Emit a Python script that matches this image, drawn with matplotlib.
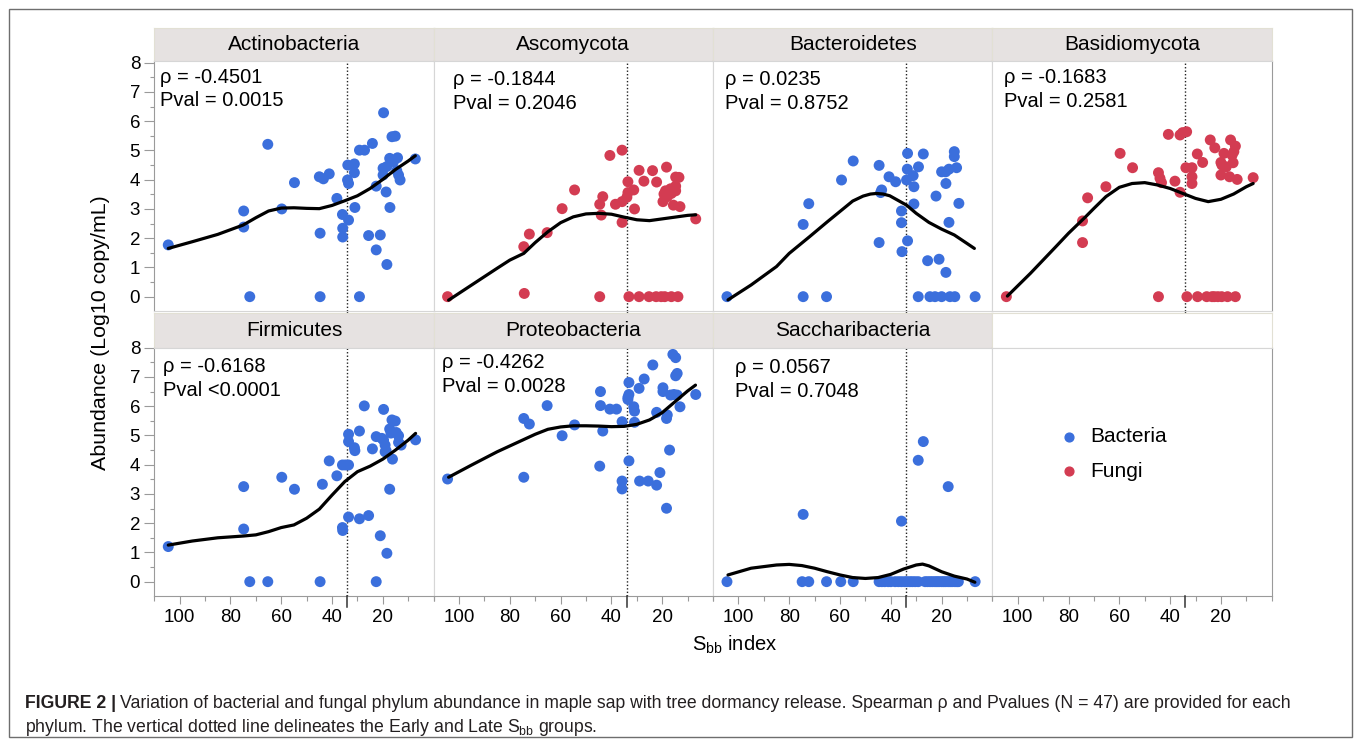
import matplotlib
matplotlib.use("Agg")
import matplotlib.pyplot as plt
from matplotlib.patches import Rectangle
from matplotlib.ticker import MultipleLocator

plt.rcParams['font.family'] = ['Liberation Sans', 'DejaVu Sans']
plt.rcParams['mathtext.fontset'] = 'custom'
plt.rcParams['mathtext.rm'] = 'Liberation Sans'

BLUE = '#3b6fdc'
RED = '#d33c52'
SPLIT = 34  # Sbb index separating Early and Late groups

# ---- data: Sbb index (x) and Log10 copy/mL (y) for each phylum ----
actino_x = [104.5, 74.8, 74.8, 72.4, 65.3, 59.8, 54.8, 44.7, 44.7, 45.0, 43.4, 41.1, 38.1,
            35.9, 35.8, 35.8, 33.8, 33.9, 33.5, 33.5, 31.2, 31.2, 31.0, 29.2, 29.2, 27.2,
            25.6, 24.1, 22.6, 22.6, 21.0, 19.7, 19.9, 19.9, 18.7, 18.4, 17.3, 17.2, 16.4,
            15.1, 15.8, 14.5, 14.2, 13.8, 13.2, 7.2, 18.4]
actino_y = [1.77, 2.93, 2.38, 0.0, 5.21, 3.00, 3.90, 2.17, 0.0, 4.10, 4.03, 4.20, 3.36,
            2.81, 2.34, 2.04, 4.50, 3.99, 3.87, 2.62, 4.54, 4.24, 3.05, 5.01, 0.0, 5.01,
            2.09, 5.24, 3.78, 1.60, 2.11, 6.29, 4.39, 4.16, 3.58, 1.10, 4.73, 3.05, 5.47,
            5.49, 4.62, 4.31, 4.75, 4.16, 3.99, 4.71, 4.45]
actino_fit_x = [104.5, 95, 85, 75, 70, 65, 60, 55, 50, 45, 40, 35, 30, 25, 20, 15, 10, 7.2]
actino_fit_y = [1.65, 1.88, 2.13, 2.45, 2.70, 2.93, 3.03, 3.04, 3.02, 3.01, 3.12, 3.28,
                3.45, 3.70, 4.01, 4.35, 4.64, 4.82]

asco_x = [104.5, 74.3, 74.5, 72.3, 65.3, 59.4, 54.5, 44.6, 44.6, 44.0, 43.4, 40.6, 38.4,
          35.8, 35.8, 35.8, 33.5, 33.1, 33.5, 31.2, 30.9, 29.1, 29.1, 27.2, 25.2, 23.8,
          22.2, 22.4, 20.4, 19.3, 19.7, 18.3, 19.0, 18.7, 16.7, 16.4, 15.6, 14.7, 13.8,
          13.4, 14.7, 14.7, 13.0, 6.8, 16.4, 18.0, 33.9]
asco_y = [0.0, 0.11, 1.71, 2.14, 2.19, 3.01, 3.65, 0.0, 3.16, 2.79, 3.42, 4.83, 3.16,
          5.01, 3.25, 2.54, 3.93, 0.0, 3.56, 3.65, 3.00, 4.32, 0.0, 3.95, 0.0, 4.31,
          3.92, 0.0, 0.0, 3.51, 3.25, 4.43, 0.0, 3.62, 3.69, 0.0, 3.13, 4.09, 0.0,
          4.08, 3.78, 3.62, 3.08, 2.66, 3.53, 3.42, 3.40]
asco_fit_x = [104.1, 95, 85, 80, 74.5, 70, 65, 60, 55, 50, 45, 40, 35, 30, 25, 20, 15, 10, 6.8]
asco_fit_y = [-0.12, 0.40, 0.97, 1.25, 1.48, 1.85, 2.22, 2.53, 2.73, 2.83, 2.85, 2.82,
              2.72, 2.63, 2.60, 2.66, 2.72, 2.78, 2.80]

bactero_x = [104.5, 74.5, 74.5, 72.3, 65.3, 59.4, 54.8, 44.6, 44.6, 43.6, 44.0, 40.7, 38.1,
             35.8, 35.8, 35.6, 33.4, 33.5, 33.8, 33.4, 31.2, 30.9, 30.9, 29.2, 29.1, 27.2,
             25.5, 24.6, 22.6, 22.2, 21.0, 20.0, 20.0, 18.3, 18.3, 17.1, 17.1, 18.4, 15.0,
             15.0, 14.1, 14.8, 13.2, 16.7, 6.8]
bactero_y = [0.0, 0.0, 2.47, 3.18, 0.0, 3.99, 4.64, 4.49, 1.85, 3.65, 3.56, 4.10, 3.93,
             2.93, 2.53, 1.54, 4.90, 4.36, 3.99, 1.91, 4.14, 3.76, 3.17, 0.0, 4.44, 4.88,
             1.23, 0.0, 0.0, 3.44, 1.28, 4.27, 0.0, 3.87, 0.83, 2.54, 4.36, 4.27, 4.96,
             4.79, 4.41, 0.0, 3.19, 0.0, 0.0]
bactero_fit_x = [104.1, 95, 85, 80, 72, 65, 58.8, 55, 50.9, 48, 45.6, 43, 40.4, 33.8, 30,
                 25, 20, 15, 10, 7.1]
bactero_fit_y = [-0.11, 0.40, 1.03, 1.48, 2.05, 2.56, 3.00, 3.27, 3.44, 3.51, 3.53, 3.51,
                 3.45, 3.13, 2.85, 2.54, 2.31, 2.11, 1.82, 1.65]

basidio_x = [104.5, 74.5, 74.5, 72.5, 65.3, 59.7, 54.8, 44.6, 44.6, 44.0, 43.4, 40.7, 38.1,
             36.1, 35.1, 33.5, 36.1, 33.8, 33.4, 31.4, 31.4, 31.4, 29.3, 29.2, 27.2, 25.6,
             24.2, 22.4, 22.6, 20.0, 20.0, 19.7, 19.6, 18.8, 17.4, 16.6, 16.2, 15.6, 15.2,
             14.3, 14.3, 13.6, 7.3, 17.9, 14.9, 21.2, 23.5]
basidio_y = [0.0, 2.59, 1.85, 3.38, 3.76, 4.90, 4.41, 0.0, 4.24, 4.05, 3.90, 5.55, 3.95,
             5.53, 5.61, 5.64, 3.57, 4.41, 0.0, 4.41, 4.10, 3.87, 4.88, 0.0, 4.59, 0.0,
             5.36, 5.09, 0.0, 4.59, 4.16, 0.0, 4.50, 4.90, 0.0, 4.10, 5.36, 4.84, 4.58,
             5.15, 0.0, 4.01, 4.07, 4.44, 4.96, 0.0, 0.0]
basidio_fit_x = [104.1, 95, 85, 80, 73.2, 70, 65.3, 60, 55, 50, 45, 40, 35, 30, 25, 20, 15,
                 10, 7.3]
basidio_fit_y = [0.02, 0.80, 1.71, 2.17, 2.74, 3.02, 3.42, 3.74, 3.87, 3.90, 3.82, 3.70,
                 3.53, 3.36, 3.25, 3.33, 3.51, 3.76, 3.87]

firmi_x = [104.5, 74.8, 74.8, 72.4, 65.3, 59.8, 54.8, 44.7, 43.8, 41.1, 38.1, 35.9, 35.8,
           35.9, 33.5, 33.5, 33.5, 33.5, 31.2, 31.0, 29.2, 29.2, 27.3, 25.6, 24.1, 22.6,
           22.6, 21.0, 19.7, 20.4, 19.7, 19.1, 18.7, 18.4, 17.3, 17.3, 16.4, 15.1, 16.2,
           14.7, 13.8, 13.8, 12.8, 7.1, 19.1, 16.8, 34.7]
firmi_y = [1.20, 3.25, 1.80, 0.0, 0.0, 3.57, 3.16, 0.0, 3.33, 4.13, 3.62, 1.85, 1.75,
           3.99, 3.99, 5.04, 4.79, 2.21, 4.58, 4.48, 5.15, 2.15, 6.01, 2.26, 4.54, 4.96,
           0.0, 1.57, 5.89, 4.90, 4.84, 4.67, 4.48, 0.97, 5.22, 3.16, 5.53, 5.49, 4.19,
           5.10, 4.99, 4.76, 4.67, 4.85, 4.44, 5.08, 3.99]
firmi_fit_x = [104.5, 95, 85, 75, 70, 65, 60, 55, 50, 45, 40, 35, 30, 25, 20, 15, 10, 7.1]
firmi_fit_y = [1.25, 1.39, 1.50, 1.56, 1.60, 1.71, 1.85, 1.94, 2.17, 2.48, 2.96, 3.42,
               3.76, 3.95, 4.19, 4.50, 4.84, 5.07]

proteo_x = [104.5, 74.5, 72.3, 74.5, 65.3, 59.4, 54.5, 44.6, 44.3, 44.3, 43.4, 40.6, 38.0,
            35.8, 35.8, 35.8, 33.1, 33.1, 33.5, 33.1, 31.2, 30.9, 30.9, 29.1, 28.9, 27.1,
            25.5, 23.7, 22.2, 22.2, 20.9, 19.7, 19.7, 18.3, 18.3, 18.0, 17.1, 16.7, 15.8,
            14.7, 14.7, 14.1, 14.1, 13.0, 6.8, 15.4, 33.5]
proteo_y = [3.51, 5.58, 5.39, 3.57, 6.02, 4.99, 5.36, 3.95, 6.50, 6.02, 5.15, 5.90, 5.90,
            5.47, 3.44, 3.17, 6.81, 6.40, 6.23, 4.13, 5.98, 5.83, 5.45, 6.61, 3.44, 6.93,
            3.44, 7.41, 3.30, 5.79, 3.73, 6.63, 6.50, 2.51, 5.58, 5.70, 4.50, 6.38, 7.77,
            7.66, 7.04, 7.12, 6.38, 5.98, 6.40, 6.40, 6.30]
proteo_fit_x = [104.1, 95, 85, 75, 70, 65, 60, 55, 50, 45, 40, 35, 30, 25, 20, 15, 10, 6.9]
proteo_fit_y = [3.57, 3.99, 4.44, 4.84, 5.04, 5.21, 5.29, 5.33, 5.33, 5.32, 5.30, 5.31,
                5.38, 5.53, 5.78, 6.15, 6.52, 6.72]

sacch_x = [104.5, 74.5, 74.9, 72.3, 65.3, 59.7, 54.8, 44.6, 43.5, 42.4, 41.0, 40.0, 38.3,
           37.0, 35.8, 35.8, 34.5, 33.6, 32.5, 31.5, 30.4, 29.2, 29.2, 27.2, 26.5, 25.5,
           24.5, 23.6, 22.6, 21.8, 21.0, 20.0, 19.2, 18.4, 17.4, 17.4, 16.6, 15.8, 14.8,
           14.0, 13.4, 6.8]
sacch_y = [0.0, 2.30, 0.0, 0.0, 0.0, 0.0, 0.0, 0.0, 0.0, 0.0, 0.0, 0.0, 0.0,
           0.0, 2.07, 0.0, 0.0, 0.0, 0.0, 0.0, 0.0, 0.0, 4.15, 4.79, 0.0, 0.0,
           0.0, 0.0, 0.0, 0.0, 0.0, 0.0, 0.0, 0.0, 3.25, 0.0, 0.0, 0.0, 0.0,
           0.0, 0.0, 0.0]
sacch_fit_x = [104.1, 95, 85, 80, 75, 70, 65, 60, 55, 50, 45, 40, 35, 30, 27.5, 25, 20, 15,
               10, 6.9]
sacch_fit_y = [0.23, 0.46, 0.57, 0.59, 0.55, 0.46, 0.34, 0.23, 0.14, 0.11, 0.14, 0.25,
               0.43, 0.57, 0.60, 0.54, 0.34, 0.19, 0.09, -0.02]

panel_names = ['Actinobacteria', 'Ascomycota', 'Bacteroidetes', 'Basidiomycota',
               'Firmicutes', 'Proteobacteria', 'Saccharibacteria']
rho_labels = ['ρ = -0.4501', 'ρ = -0.1844', 'ρ = 0.0235', 'ρ = -0.1683',
              'ρ = -0.6168', 'ρ = -0.4262', 'ρ = 0.0567']
pval_labels = ['Pval = 0.0015', 'Pval = 0.2046', 'Pval = 0.8752', 'Pval = 0.2581',
               'Pval <0.0001', 'Pval = 0.0028', 'Pval = 0.7048']
panel_data = [
    (actino_x, actino_y, actino_fit_x, actino_fit_y, BLUE),
    (asco_x, asco_y, asco_fit_x, asco_fit_y, RED),
    (bactero_x, bactero_y, bactero_fit_x, bactero_fit_y, BLUE),
    (basidio_x, basidio_y, basidio_fit_x, basidio_fit_y, RED),
    (firmi_x, firmi_y, firmi_fit_x, firmi_fit_y, BLUE),
    (proteo_x, proteo_y, proteo_fit_x, proteo_fit_y, BLUE),
    (sacch_x, sacch_y, sacch_fit_x, sacch_fit_y, BLUE),
]
# where the stats text sits in each panel (data coords: x, rho line y, pval line y)
text_pos = [(107.8, 7.51, 6.72), (102.3, 7.41, 6.62), (105.4, 7.44, 6.62),
            (105.4, 7.48, 6.66), (106.7, 7.35, 6.55), (106.7, 7.48, 6.66),
            (101.4, 7.32, 6.49)]

# ---- layout in pixels ----
W, H = 1355, 746
fig = plt.figure(figsize=(W / 100, H / 100), dpi=100)

def rect(l, t, r, b):
    return [l / W, 1 - b / H, (r - l) / W, (b - t) / H]

col_edges = [154.3, 433.6, 713.0, 992.4, 1271.7]
rows = [(28.3, 60.7, 310.7, 8.07), (313.3, 347.7, 595.7, 8.0)]  # strip top, axes top, axes bottom, ymax
YMIN = -0.48
GRID = '#d6d6d6'
AXIS = '#9a9a9a'

# outer frame
fig.add_artist(Rectangle((9 / W, 1 - 737 / H), 1343 / W, 728 / H, transform=fig.transFigure,
                         fill=False, edgecolor='#6e6e6e', lw=1.0))

for idx in range(8):
    r, c = divmod(idx, 4)
    st, at, ab, ymax = rows[r]
    l, rr = col_edges[c], col_edges[c + 1]
    empty = idx == 7

    # strip header
    sax = fig.add_axes(rect(l, st, rr, at))
    sax.set_xticks([])
    sax.set_yticks([])
    sax.set_facecolor('white' if empty else '#e6e2e1')
    for sp in sax.spines.values():
        sp.set_color('#e2e0d4')
        sp.set_linewidth(0.8)
    if not empty:
        sax.text(0.5, 0.5, panel_names[idx], ha='center', va='center', fontsize=15,
                 transform=sax.transAxes)

    ax = fig.add_axes(rect(l, at, rr, ab))
    ax.set_xlim(110, 0)
    ax.set_ylim(YMIN, ymax)
    for sp in ax.spines.values():
        sp.set_color(GRID)
        sp.set_linewidth(0.8)
    if c == 0:
        ax.spines['left'].set_color(AXIS)
    if c == 3:
        ax.spines['right'].set_color(AXIS)
    if r == 1:
        ax.spines['bottom'].set_color(AXIS)

    ax.yaxis.set_major_locator(MultipleLocator(1))
    ax.yaxis.set_minor_locator(MultipleLocator(0.5))
    ax.xaxis.set_major_locator(MultipleLocator(20))
    ax.xaxis.set_minor_locator(MultipleLocator(10))
    ax.tick_params(axis='y', which='major', length=7.2, width=0.8, color=AXIS, pad=3,
                   labelsize=13.5, left=(c == 0), labelleft=(c == 0))
    ax.tick_params(axis='y', which='minor', length=3, width=0.8, color=AXIS, left=(c == 0))
    ax.tick_params(axis='x', which='major', length=5.8, width=0.8, color=AXIS, pad=4,
                   labelsize=13.5, bottom=(r == 1), labelbottom=(r == 1))
    ax.tick_params(axis='x', which='minor', length=3.6, width=0.8, color=AXIS, bottom=(r == 1))
    if r == 1:
        ax.set_xticks([100, 80, 60, 40, 20])
        ax.set_xticklabels(['100', '80', '60', '40', '20'])
        # short dark marker below the axis at the group split
        ax.plot([SPLIT, SPLIT], [YMIN, YMIN - 11 / 29.25], color='#333333', lw=1.1,
                clip_on=False, zorder=5)

    if empty:
        ax.scatter([], [], s=40, color=BLUE, label='Bacteria')
        ax.scatter([], [], s=40, color=RED, label='Fungi')
        ax.legend(loc='center', bbox_to_anchor=(0.434, 0.571), frameon=False, fontsize=15,
                  handletextpad=0.6, labelspacing=0.75, handlelength=0.8)
        continue

    xs, ys, fx, fy, col = panel_data[idx]
    ax.axvline(SPLIT, color='#222222', lw=1.0, ls=(0, (1, 1.5)), zorder=1)
    if r == 0:
        ax.plot([SPLIT, SPLIT], [YMIN, YMIN - 3 / 29.25], color='#222222', lw=1.0,
                ls=(0, (1, 1.5)), clip_on=False)
    ax.scatter(xs, ys, s=62, color=col, edgecolors='none', zorder=3)
    ax.plot(fx, fy, color='black', lw=2.3, zorder=4, solid_capstyle='round',
            solid_joinstyle='round')

    tx, ty1, ty2 = text_pos[idx]
    ax.text(tx, ty1, rho_labels[idx], fontsize=14.5, va='center', ha='left')
    ax.text(tx, ty2, pval_labels[idx], fontsize=14.5, va='center', ha='left')

# axis titles
fig.text(101 / W, 1 - 333 / H, 'Abundance (Log10 copy/mL)', rotation=90, ha='center',
         va='center', fontsize=15.4)
fig.text(735 / W, 1 - 645 / H, r'S$_{\mathregular{bb}}$ index', ha='center', va='center',
         fontsize=14.5)

# caption
cap_color = '#231f20'
renderer = fig.canvas.get_renderer()
bold = fig.text(25 / W, 1 - 703 / H, 'FIGURE 2 |', fontsize=12.7, fontweight='bold',
                color=cap_color, va='center', ha='left')
bw = bold.get_window_extent(renderer).width
fig.text((25 + bw + 4) / W, 1 - 703 / H,
         'Variation of bacterial and fungal phylum abundance in maple sap with tree dormancy '
         'release. Spearman ρ and Pvalues (N = 47) are provided for each',
         fontsize=12.7, color=cap_color, va='center', ha='left')
fig.text(25 / W, 1 - 727 / H,
         r'phylum. The vertical dotted line delineates the Early and Late S$_{\mathregular{bb}}$ groups.',
         fontsize=12.7, color=cap_color, va='center', ha='left')

fig.savefig('out.png', dpi=100)
